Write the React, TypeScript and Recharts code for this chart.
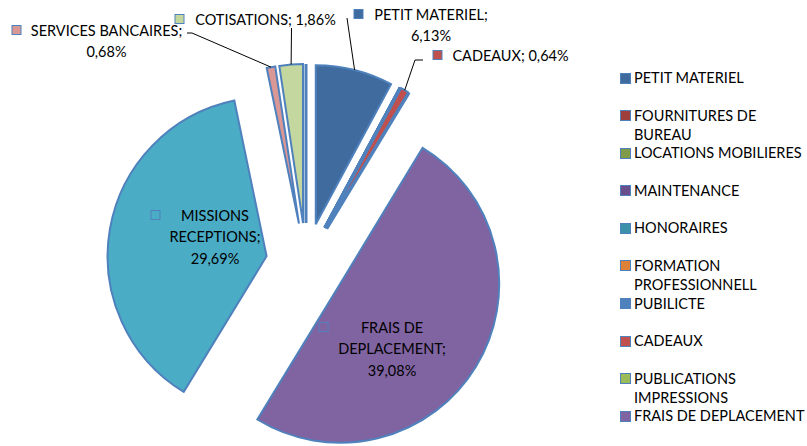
import React from 'react';
import { PieChart, Pie, Cell, Sector, Legend } from 'recharts';

// budget categories in the order of the Excel legend (the last one is a zero slice)
const CATEGORIES = [
  'PETIT MATERIEL',
  'FOURNITURES DE BUREAU',
  'LOCATIONS MOBILIERES',
  'MAINTENANCE',
  'HONORAIRES',
  'FORMATION PROFESSIONNELL',
  'PUBILICTE',
  'CADEAUX',
  'PUBLICATIONS IMPRESSIONS',
  'FRAIS DE DEPLACEMENT',
  'MISSIONS RECEPTIONS',
  'SERVICES BANCAIRES',
  'COTISATIONS',
  'AUTRES',
];
const PERCENTS = [6.13, 0, 0, 0, 0, 0, 0, 0.64, 0, 39.08, 29.69, 0.68, 1.86, 0];
const COLORS = [
  '#3F6B9E', '#9E3F3C', '#7F9A48', '#684F8C', '#3B91AA', '#DC8135', '#4F81BD',
  '#C0504D', '#9BBB59', '#8064A2', '#4BACC6', '#D99795', '#C4D79F', '#FFFFFF',
];

const W = 807;
const H = 446;
const CX = 306;
const CY = 263;
const R = 159;
const EXPLODE = 40;
const OUTLINE = '#4F81BD';
const FONT = 'Lato, "Open Sans", sans-serif';
const RAD = Math.PI / 180;
const LEGEND_TOP = 68;
const LEGEND_ROW = 37.6;

// label boxes, relative to pie centre: x = left edge of text block, y = centre of first line
const LABEL_LAYOUT: Record<string, any> = {
  'PETIT MATERIEL': { dx: 66, dy: -249, w: 118, maxChars: 15, leader: [[41, -245]] },
  'CADEAUX': { dx: 145, dy: -208, w: 119, maxChars: 24, leader: [[117, -203], [109, -203]] },
  'SERVICES BANCAIRES': { dx: -276, dy: -233, w: 153, maxChars: 19, leader: [[-119, -230], [-114, -230]] },
  'COTISATIONS': { dx: -113, dy: -244, w: 145, maxChars: 24, leader: [[-14.5, -235]] },
  'MISSIONS RECEPTIONS': { dx: -137, dy: -48, w: 92, maxChars: 12 },
  'FRAIS DE DEPLACEMENT': { dx: 31, dy: 64, w: 110, maxChars: 12 },
};

const data = CATEGORIES.map((name, i) => ({ name, value: PERCENTS[i] }));

const fmtPct = (v: number) => v.toFixed(2).replace('.', ',') + '%';

const wrapWords = (text: string, maxChars: number) => {
  const out: string[] = [];
  let cur = '';
  text.split(' ').forEach(w => {
    if (cur && (cur + ' ' + w).length > maxChars) {
      out.push(cur);
      cur = w;
    } else {
      cur = cur ? cur + ' ' + w : w;
    }
  });
  if (cur) out.push(cur);
  return out;
};

// draws each slice pulled out along its own mid angle
const renderSlice = (props: any) => {
  const { cx, cy, midAngle, startAngle, endAngle, outerRadius, index } = props;
  const a = -midAngle * RAD;
  const ex = cx + EXPLODE * Math.cos(a);
  const ey = cy + EXPLODE * Math.sin(a);
  if (startAngle === endAngle) {
    return (
      <line
        x1={ex}
        y1={ey}
        x2={ex + outerRadius * Math.cos(a)}
        y2={ey + outerRadius * Math.sin(a)}
        stroke={OUTLINE}
        strokeWidth={3}
      />
    );
  }
  return (
    <Sector
      cx={ex}
      cy={ey}
      innerRadius={0}
      outerRadius={outerRadius}
      startAngle={startAngle}
      endAngle={endAngle}
      fill={COLORS[index]}
      stroke={OUTLINE}
      strokeWidth={2}
    />
  );
};

const renderText = (props: any) => {
  const { cx, cy, midAngle, outerRadius, index } = props;
  const name = CATEGORIES[index];
  const lay = LABEL_LAYOUT[name];
  if (!lay || !PERCENTS[index]) return <g />;
  const lines = wrapWords(`${name}; ${fmtPct(PERCENTS[index])}`, lay.maxChars);
  const a = -midAngle * RAD;
  const tipX = cx + (EXPLODE + outerRadius) * Math.cos(a);
  const tipY = cy + (EXPLODE + outerRadius) * Math.sin(a);
  const x = cx + lay.dx;
  const y = cy + lay.dy;
  let leader = null;
  if (lay.leader) {
    const pts = lay.leader.map((p: number[]) => `${cx + p[0]},${cy + p[1]}`);
    pts.push(`${tipX},${tipY}`);
    leader = <polyline points={pts.join(' ')} fill="none" stroke="#000" strokeWidth={1} />;
  }
  return (
    <g>
      {leader}
      <rect x={x - 18} y={y - 4.5} width={9} height={9} fill={COLORS[index]} stroke={OUTLINE} strokeWidth={1} />
      {lines.map((ln, i) => (
        <text
          key={i}
          x={x + lay.w / 2}
          y={y + i * 21.5}
          textAnchor="middle"
          dominantBaseline="central"
          fontFamily={FONT}
          fontSize={14.5}
          fill="#000"
        >
          {ln}
        </text>
      ))}
    </g>
  );
};

// Excel drops the legend entries that no longer fit in the chart area
const renderLegend = () => {
  const fits = CATEGORIES.filter((_, i) => LEGEND_TOP + i * LEGEND_ROW + 19 <= H);
  return (
    <div style={{ fontFamily: FONT, fontSize: 14.5, color: '#000' }}>
      {fits.map((name, i) => (
        <div key={name} style={{ position: 'relative', height: LEGEND_ROW }}>
          <div
            style={{
              position: 'absolute',
              left: 0,
              top: 4.5,
              width: 9,
              height: 9,
              background: COLORS[i],
              border: `1px solid ${OUTLINE}`,
            }}
          />
          <div style={{ position: 'absolute', left: 14, top: 0, lineHeight: '19px', whiteSpace: 'nowrap' }}>
            {wrapWords(name, 20).map((ln, j) => (
              <div key={j}>{ln}</div>
            ))}
          </div>
        </div>
      ))}
    </div>
  );
};

export default function App() {
  return (
    <div style={{ width: W, height: H, overflow: 'hidden', background: '#fff' }}>
      <style>{'body{margin:0}'}</style>
      <PieChart width={W} height={H} margin={{ top: 0, right: 0, bottom: 0, left: 0 }}>
        <Pie
          data={data}
          dataKey="value"
          nameKey="name"
          cx={CX}
          cy={CY}
          outerRadius={R}
          startAngle={90}
          endAngle={-270}
          stroke="none"
          fill="none"
          label={renderSlice}
          labelLine={false}
          isAnimationActive={false}
        >
          {data.map((d) => (
            <Cell key={d.name} fill="none" stroke="none" />
          ))}
        </Pie>
        <Pie
          data={data}
          dataKey="value"
          nameKey="name"
          cx={CX}
          cy={CY}
          outerRadius={R}
          startAngle={90}
          endAngle={-270}
          stroke="none"
          fill="none"
          legendType="none"
          label={renderText}
          labelLine={false}
          isAnimationActive={false}
        />
        <Legend
          layout="vertical"
          align="right"
          verticalAlign="top"
          content={renderLegend}
          wrapperStyle={{ left: 620, top: LEGEND_TOP, width: 187 }}
        />
      </PieChart>
    </div>
  );
}
